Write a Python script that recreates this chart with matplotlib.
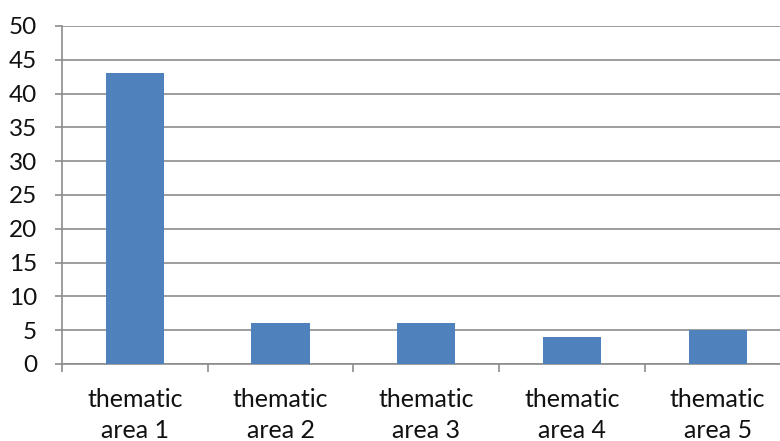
import matplotlib.pyplot as plt
import numpy as np

categories = ["thematic\narea 1", "thematic\narea 2", "thematic\narea 3",
              "thematic\narea 4", "thematic\narea 5"]
values = [43, 6, 6, 4, 5]

plt.rcParams['font.family'] = ['Lato', 'DejaVu Sans']

fig = plt.figure(figsize=(7.8, 4.41), dpi=100)
W, H = 780, 441
left, right, top, bottom = 62, 790.5, 26, 364
ax = fig.add_axes([left / W, 1 - bottom / H, (right - left) / W, (bottom - top) / H])

grid_col = '#8c8c8c'
x = np.arange(len(values))
ax.bar(x, values, width=0.4, color='#4f81bd', zorder=3)

ax.set_xlim(-0.5, len(values) - 0.5)
ax.set_ylim(0, 50)
ax.set_yticks(np.arange(0, 51, 5))
ax.yaxis.grid(True, color=grid_col, linewidth=1.2, zorder=0)

# category ticks sit between the bars, labels centred under them
ax.set_xticks(np.arange(-0.5, len(values), 1.0))
ax.set_xticklabels([])
ax.set_xticks(x, minor=True)
ax.set_xticklabels(categories, minor=True, fontsize=18, linespacing=1.45,
                   color='#111111')
ax.tick_params(axis='x', which='minor', length=0, pad=17)
ax.tick_params(axis='x', which='major', length=6, width=1.2, color=grid_col)
ax.tick_params(axis='y', length=5, width=1.2, color=grid_col, labelsize=17.5,
               labelcolor='#111111', pad=13)

for side in ['top', 'right']:
    ax.spines[side].set_visible(False)
for side in ['left', 'bottom']:
    ax.spines[side].set_color(grid_col)
    ax.spines[side].set_linewidth(1.2)

fig.savefig('out.png', dpi=100)
